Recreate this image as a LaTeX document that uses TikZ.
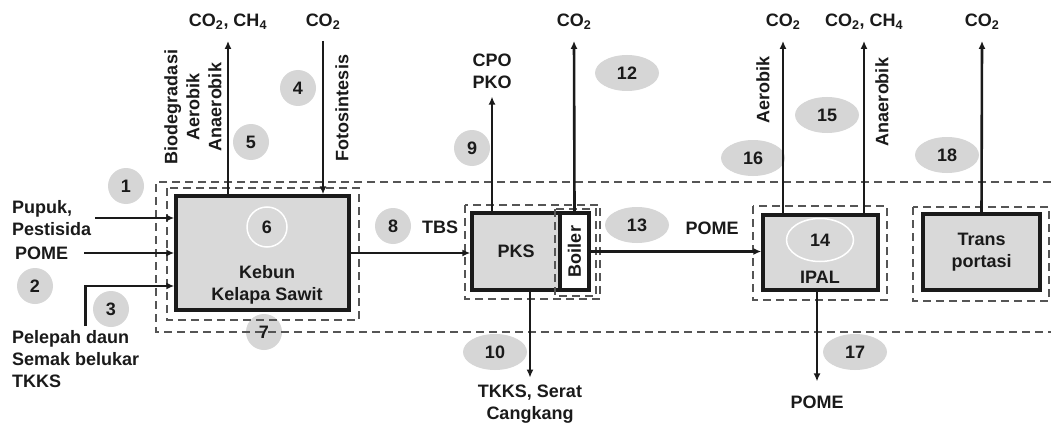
\documentclass[tikz,border=0pt]{standalone}
\usepackage{fontspec}
\setmainfont{Liberation Sans}
\usetikzlibrary{arrows.meta,positioning,shapes.geometric}

\definecolor{boxgray}{HTML}{D9D9D9}
\definecolor{numgray}{HTML}{D6D6D6}
\definecolor{linegray}{HTML}{555555}
\definecolor{inkblack}{HTML}{1A1A1A}

\tikzset{
  unit/.style={draw=inkblack, line width=3.4pt, fill=boxgray, inner sep=0pt, align=center},
  num/.style={circle, fill=numgray, minimum size=36pt, inner sep=0pt},
  numel/.style={ellipse, fill=numgray, minimum width=64pt, minimum height=36pt, inner sep=0pt},
  ring/.style={draw=white, line width=1.5pt},
  lbl/.style={align=left, inner sep=4pt},
  gas/.style={align=center, inner xsep=4pt, inner ysep=11pt},
  flow/.style={draw=inkblack, line width=2.6pt, -{Latex[length=8pt,width=7pt]}},
  frame/.style={linegray, line width=1.4pt, dash pattern=on 8pt off 5pt},
}

\begin{document}
\begin{tikzpicture}[x=1pt, y=-1pt, font=\fontsize{18}{22}\selectfont\bfseries, text=inkblack]
    \useasboundingbox (0,0) rectangle (1051,425);

    % process units
    \node[unit, minimum width=173pt, minimum height=114pt] (kebun) at (262.5,253) {};
    \node[unit, minimum width=88pt, minimum height=77pt] (pks) at (516,251.5) {PKS};
    \node[unit, fill=white, minimum width=29pt, minimum height=77pt] (boiler) at (574.5,251.5) {\rotatebox{90}{Boiler}};
    \node[unit, minimum width=115pt, minimum height=75pt] (ipal) at (820.5,252.5) {};
    \node[unit, minimum width=117pt, minimum height=76pt] (trans) at (981.5,252) {Trans\\portasi};

    \node[align=center] (kebuntxt) at (267,285) {Kebun\\Kelapa Sawit};
    \node (ipaltxt) at (820,277) {IPAL};

    % numbers
    \node[num] (n1) at (126,186) {1};
    \node[num] (n2) at (35,286) {2};
    \node[num] (n3) at (111,309) {3};
    \node[num] (n4) at (298,88) {4};
    \node[num] (n5) at (251,142) {5};
    \node[circle, ring, minimum size=40pt, inner sep=0pt] (n6) at (267,227) {6};
    \node[num] (n7) at (264,332) {7};
    \node[num] (n8) at (393,226) {8};
    \node[num] (n9) at (472,148) {9};
    \node[numel] (n10) at (495,352) {10};
    \node[numel] (n12) at (627,73) {12};
    \node[numel] (n13) at (637,225) {13};
    \node[ellipse, ring, minimum width=67pt, minimum height=43pt, inner sep=0pt] (n14) at (820,240) {14};
    \node[numel] (n15) at (827,115) {15};
    \node[numel] (n16) at (753,158) {16};
    \node[numel] (n17) at (855,352) {17};
    \node[numel] (n18) at (947,155) {18};

    % system boundaries
    \draw[frame] (1051,182) -- (156,182) -- (156,332) -- (1051,332);
    \draw[frame] (167,188) rectangle (359,320);
    \draw[frame] (465,205) rectangle (600,299);
    \draw[frame] (555,209) rectangle (596,296);
    \draw[frame] (753,206) rectangle (887,300);
    \draw[frame] (913,207) rectangle (1049,301);

    % inputs and outputs
    \node[lbl, anchor=west] (pupuk) at (8,218) {Pupuk,\\Pestisida};
    \node[lbl, anchor=west] (pomein) at (11,253) {POME};
    \node[lbl, anchor=north west] (pelepah) at (8,326) {Pelepah daun\\Semak belukar\\TKKS};
    \node (tbs) at (440,227) {TBS};
    \node (pomemid) at (712,228) {POME};

    \node[gas] (gas1) at (228,22) {CO\textsubscript{2}, CH\textsubscript{4}};
    \node[gas] (gas2) at (323,22) {CO\textsubscript{2}};
    \node[gas, inner ysep=8pt] (cpo) at (492,71) {CPO\\PKO};
    \node[gas] (gas3) at (574,22) {CO\textsubscript{2}};
    \node[gas, inner ysep=7pt] (tkks) at (530,404) {TKKS, Serat\\Cangkang};
    \node[gas] (gas4) at (783,22) {CO\textsubscript{2}};
    \node[gas] (gas5) at (864,22) {CO\textsubscript{2}, CH\textsubscript{4}};
    \node[gas] (gas6) at (982,22) {CO\textsubscript{2}};
    \node[gas, inner ysep=14pt] (pomeout) at (817,402) {POME};

    \node[rotate=90, align=center] (bio) at (193,107) {Biodegradasi\\Aerobik\\Anaerobik};
    \node[rotate=90] (foto) at (342,108) {Fotosintesis};
    \node[rotate=90] (aer) at (763,90) {Aerobik};
    \node[rotate=90] (anaer) at (882,102) {Anaerobik};

    % flows
    \draw[flow] (pupuk.east) -- (kebun.west |- pupuk.east);
    \draw[flow] ([xshift=12pt]pomein.east) -- (kebun.west |- pomein.east);
    \draw[flow] ([xshift=10pt]pelepah.north) |- ([yshift=-33pt]kebun.west);
    \draw[flow] (kebun.north -| gas1) -- (gas1.south);
    \draw[flow] (gas2.south) -- (kebun.north -| gas2);
    \draw[flow] (kebun.east) -- (pks.west |- kebun.east);
    \draw[flow] (pks.north -| cpo) -- (cpo.south);
    \draw[flow] (boiler.north) -- (gas3.south);
    \draw[flow] (pks.south -| tkks) -- (tkks.north);
    \draw[flow] (boiler.east) -- (ipal.west |- boiler.east);
    \draw[flow] (ipal.north -| gas4) -- (gas4.south);
    \draw[flow] (ipal.north -| gas5) -- (gas5.south);
    \draw[flow] (ipal.south -| pomeout) -- (pomeout.north);
    \draw[flow] (trans.north) -- (gas6.south);
\end{tikzpicture}
\end{document}
